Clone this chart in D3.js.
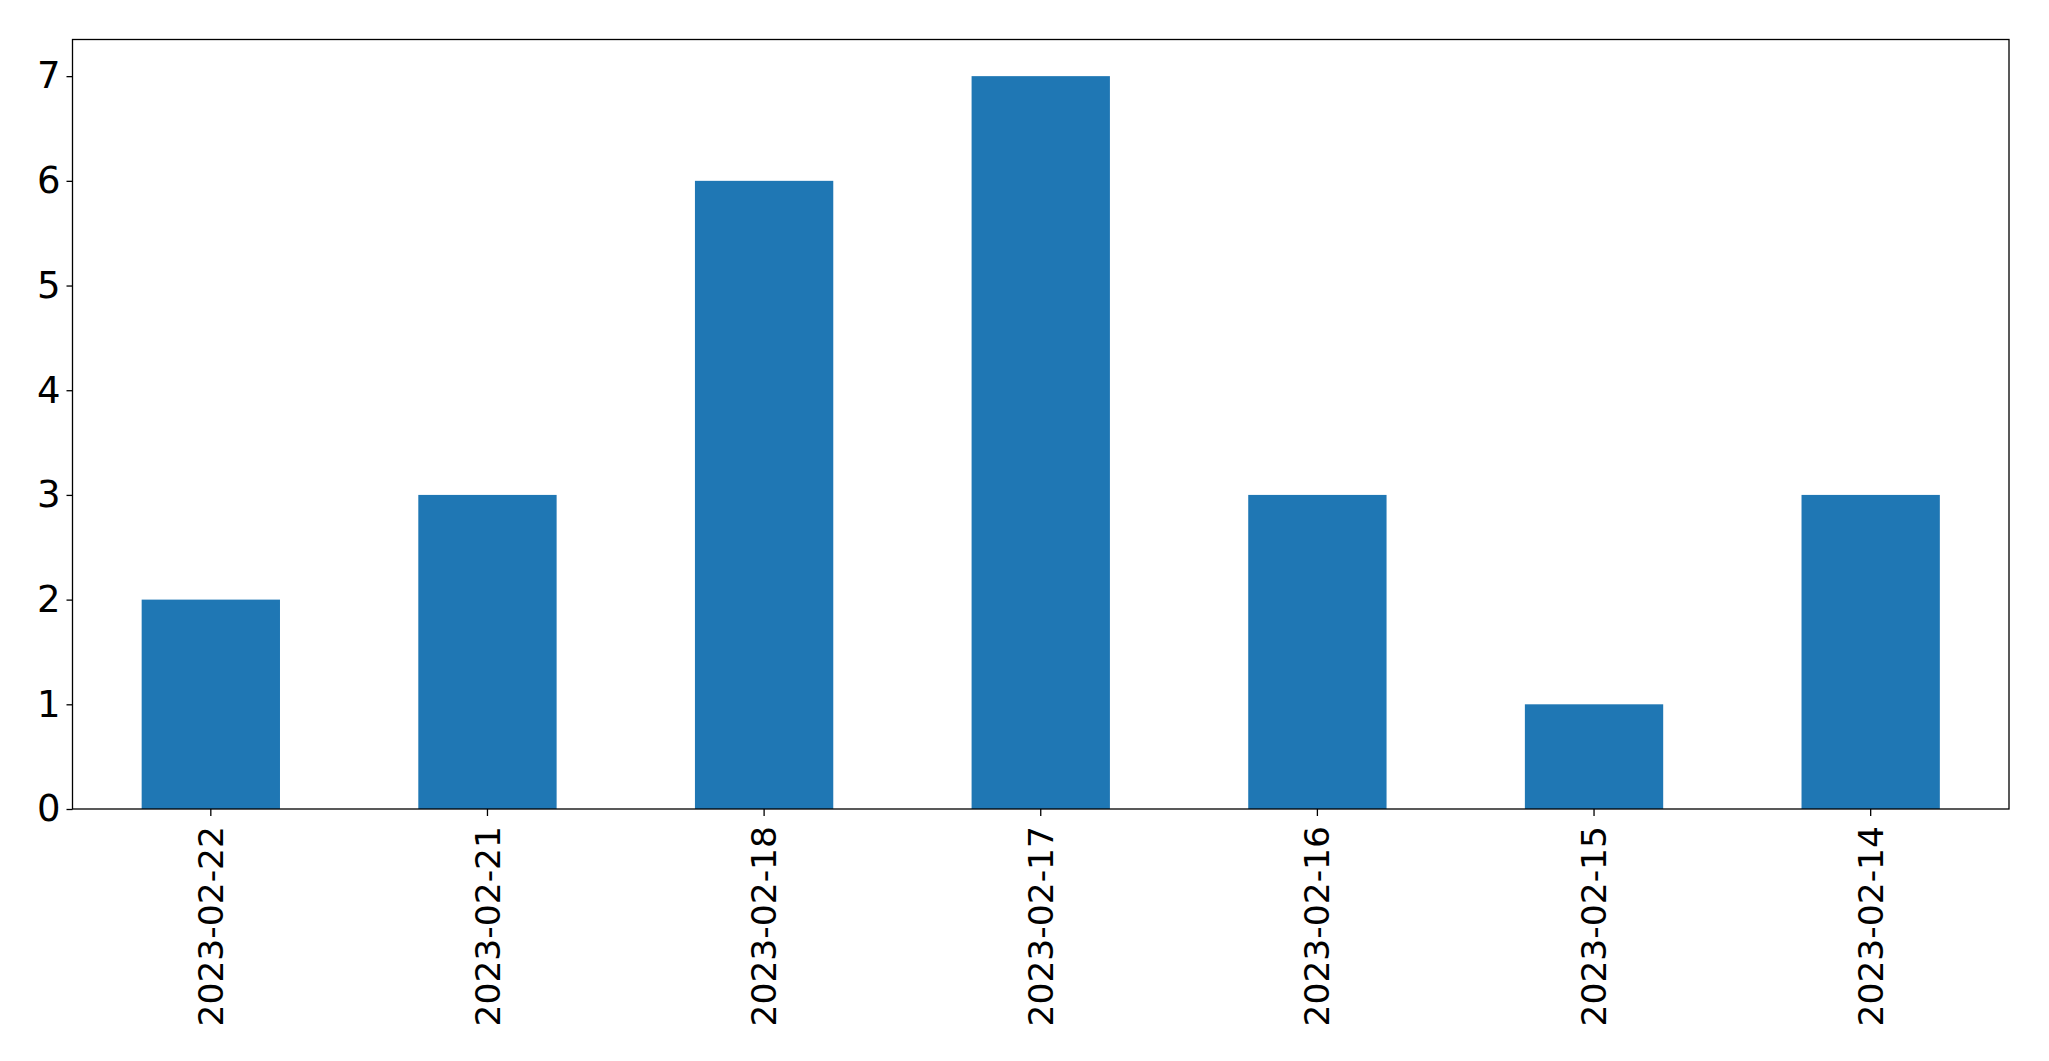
<!DOCTYPE html>
<html>
<head>
<meta charset="utf-8">
<script src="https://cdn.jsdelivr.net/npm/d3@7"></script>
<style>
  html, body { margin: 0; padding: 0; background: #fff; }
  svg { display: block; }
</style>
</head>
<body>
<script>
const categories = ["2023-02-22", "2023-02-21", "2023-02-18", "2023-02-17", "2023-02-16", "2023-02-15", "2023-02-14"];
const values = [2, 3, 6, 7, 3, 1, 3];
const yTicks = [0, 1, 2, 3, 4, 5, 6, 7];

const W = 2049, H = 1061;
const margin = { left: 72.5, right: W - 2009, top: 39.5, bottom: H - 809 };

const svg = d3.select("body").append("svg").attr("width", W).attr("height", H);

const x = d3.scaleBand()
  .domain(categories)
  .range([margin.left, W - margin.right])
  .paddingInner(0.5)
  .paddingOuter(0.25);

const y = d3.scaleLinear()
  .domain([0, 7 * 1.05])
  .range([H - margin.bottom, margin.top]);

svg.append("g").selectAll("rect")
  .data(values)
  .join("rect")
  .attr("x", (d, i) => x(categories[i]))
  .attr("y", d => y(d))
  .attr("width", x.bandwidth())
  .attr("height", d => y(0) - y(d))
  .attr("fill", "#1f77b4");

const font = "'DejaVu Sans', sans-serif";

const xAxis = svg.append("g")
  .attr("transform", `translate(0,${H - margin.bottom})`)
  .call(d3.axisBottom(x).tickSize(7).tickPadding(10).tickSizeOuter(0));
xAxis.select(".domain").remove();
xAxis.selectAll("line").attr("stroke", "#000").attr("stroke-width", 1.3);
xAxis.selectAll("text")
  .attr("font-family", font)
  .attr("font-size", 34.5)
  .attr("fill", "#000")
  .attr("transform", "rotate(-90)")
  .attr("text-anchor", "end")
  .attr("x", -17)
  .attr("y", 0)
  .attr("dy", "0.35em");

const yAxis = svg.append("g")
  .attr("transform", `translate(${margin.left},0)`)
  .call(d3.axisLeft(y).tickValues(yTicks).tickFormat(d3.format("d")).tickSize(6).tickPadding(6).tickSizeOuter(0));
yAxis.select(".domain").remove();
yAxis.selectAll("line").attr("stroke", "#000").attr("stroke-width", 1.3);
yAxis.selectAll("text")
  .attr("font-family", font)
  .attr("font-size", 37)
  .attr("fill", "#000");

svg.append("rect")
  .attr("x", margin.left)
  .attr("y", margin.top)
  .attr("width", W - margin.right - margin.left)
  .attr("height", H - margin.bottom - margin.top)
  .attr("fill", "none")
  .attr("stroke", "#000")
  .attr("stroke-width", 1.3);
</script>
</body>
</html>
